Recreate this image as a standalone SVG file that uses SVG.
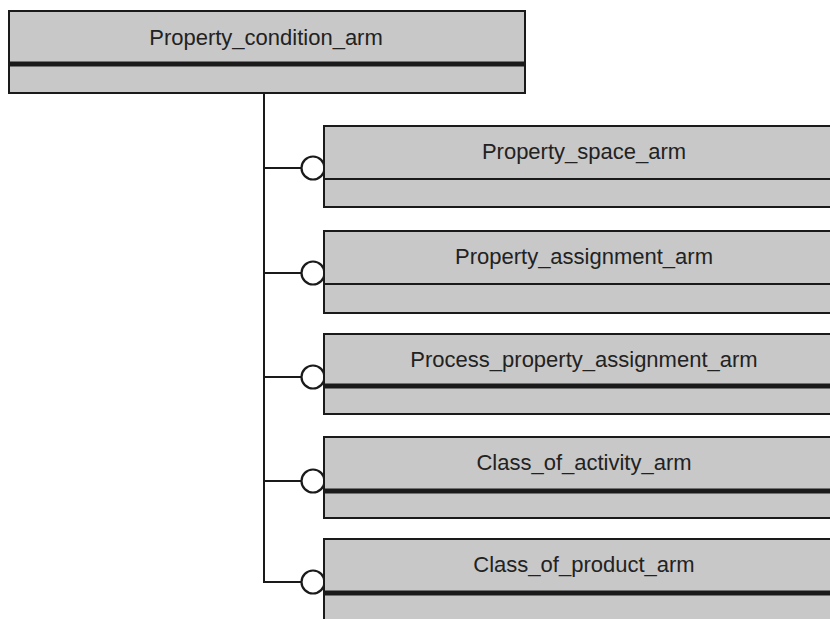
<svg xmlns="http://www.w3.org/2000/svg" width="830" height="619" viewBox="0 0 830 619">
<style>
.box{fill:#c8c8c8;stroke:#1a1a1a;stroke-width:2}
.thin{stroke:#1a1a1a;stroke-width:2}
.thick{stroke:#1a1a1a;stroke-width:5}
.lbl{font-family:"Liberation Sans",Arial,sans-serif;font-size:22px;fill:#222;text-anchor:middle}
.conn{fill:none;stroke:#1a1a1a;stroke-width:2}
.ring{fill:#fff;stroke:#1a1a1a;stroke-width:2.2}
</style>
<rect width="830" height="619" fill="#fff"/>
<g id="connectors">
<path class="conn" d="M264 94 V582 H301"/>
<path class="conn" d="M264 168 H301 M264 273 H301 M264 377 H301 M264 481 H301"/>
<circle class="ring" cx="313" cy="168" r="11.5"/>
<circle class="ring" cx="313" cy="273" r="11.5"/>
<circle class="ring" cx="313" cy="377" r="11.5"/>
<circle class="ring" cx="313" cy="481" r="11.5"/>
<circle class="ring" cx="313" cy="582" r="11.5"/>
</g>
<g id="Property_condition_arm">
<rect class="box" x="9" y="11" width="516" height="82"/>
<line class="thick" x1="9" y1="64" x2="525" y2="64"/>
<text class="lbl" x="266" y="45">Property_condition_arm</text>
</g>
<g id="Property_space_arm">
<rect class="box" x="324" y="126" width="520" height="81"/>
<line class="thin" x1="324" y1="179" x2="844" y2="179"/>
<text class="lbl" x="584" y="159">Property_space_arm</text>
</g>
<g id="Property_assignment_arm">
<rect class="box" x="324" y="231" width="520" height="82"/>
<line class="thin" x1="324" y1="284" x2="844" y2="284"/>
<text class="lbl" x="584" y="264">Property_assignment_arm</text>
</g>
<g id="Process_property_assignment_arm">
<rect class="box" x="324" y="334" width="520" height="80"/>
<line class="thick" x1="324" y1="386" x2="844" y2="386"/>
<text class="lbl" x="584" y="367">Process_property_assignment_arm</text>
</g>
<g id="Class_of_activity_arm">
<rect class="box" x="324" y="437" width="520" height="81"/>
<line class="thick" x1="324" y1="491" x2="844" y2="491"/>
<text class="lbl" x="584" y="470">Class_of_activity_arm</text>
</g>
<g id="Class_of_product_arm">
<rect class="box" x="324" y="539" width="520" height="90"/>
<line class="thick" x1="324" y1="593" x2="844" y2="593"/>
<text class="lbl" x="584" y="572">Class_of_product_arm</text>
</g>
</svg>
